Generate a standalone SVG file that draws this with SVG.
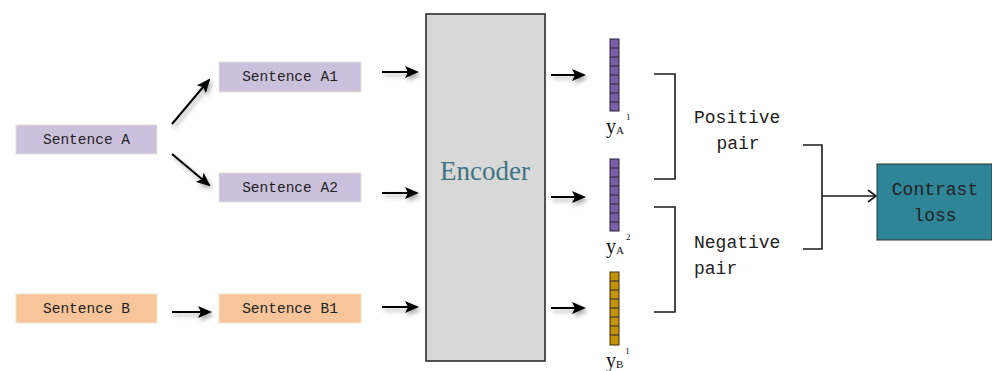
<svg xmlns="http://www.w3.org/2000/svg" width="992" height="371" viewBox="0 0 992 371">
  <style>
    .mono { font-family: "Liberation Mono", "DejaVu Sans Mono", monospace; fill: #222; }
    .sent { font-size: 14.5px; text-anchor: middle; }
    .big { font-size: 18px; }
    .boxA { fill: #cbc1dc; stroke: #e4e2d6; stroke-width: 1; }
    .boxB { fill: #f8c59b; stroke: #efe7d0; stroke-width: 1; }
    .arrow { stroke: #000; stroke-width: 2; fill: none; marker-end: url(#head); }
    .brace { stroke: #1a1a1a; stroke-width: 1.6; fill: none; }
    .vec line { stroke: #2a2238; stroke-width: 1; }
    .lbl { font-family: "Liberation Serif", "DejaVu Serif", serif; fill: #111; }
  </style>
  <defs>
    <marker id="head" markerUnits="userSpaceOnUse" markerWidth="14" markerHeight="12" refX="12" refY="6" orient="auto">
      <path d="M0,0 L14,6 L0,12 L3,6 z" fill="#000"/>
    </marker>
    <marker id="open" markerUnits="userSpaceOnUse" markerWidth="10" markerHeight="14" refX="9" refY="7" orient="auto">
      <path d="M1,1 L9,7 L1,13" fill="none" stroke="#1a1a1a" stroke-width="1.6"/>
    </marker>
    <filter id="shadow" filterUnits="userSpaceOnUse" x="0" y="0" width="992" height="371">
      <feDropShadow dx="2" dy="3" stdDeviation="2" flood-color="#000" flood-opacity="0.35"/>
    </filter>
  </defs>

  <!-- input sentences -->
  <g id="sentence-a">
    <rect class="boxA" x="16" y="125" width="141" height="29"/>
    <text class="mono sent" x="86.5" y="144">Sentence A</text>
  </g>
  <g id="sentence-b">
    <rect class="boxB" x="16" y="294" width="141" height="29"/>
    <text class="mono sent" x="86.5" y="313">Sentence B</text>
  </g>
  <g id="sentence-a1">
    <rect class="boxA" x="219" y="62" width="142" height="30"/>
    <text class="mono sent" x="290" y="81">Sentence A1</text>
  </g>
  <g id="sentence-a2">
    <rect class="boxA" x="219" y="173" width="142" height="29"/>
    <text class="mono sent" x="290" y="192">Sentence A2</text>
  </g>
  <g id="sentence-b1">
    <rect class="boxB" x="219" y="294" width="142" height="29"/>
    <text class="mono sent" x="290" y="313">Sentence B1</text>
  </g>

  <!-- encoder -->
  <g id="encoder">
    <rect x="426" y="14" width="119" height="347" fill="#d8d8d8" stroke="#2b2b2b" stroke-width="1.6"/>
    <text x="485" y="180" font-family="Liberation Serif, DejaVu Serif, serif" font-size="27" fill="#3f7484" text-anchor="middle">Encoder</text>
  </g>

  <!-- embedding vectors -->
  <g id="vec-ya1" class="vec">
    <rect x="610" y="39" width="9" height="72" fill="#7b5ea8" stroke="#2a2238" stroke-width="1"/>
    <line x1="610" y1="48" x2="619" y2="48"/><line x1="610" y1="57" x2="619" y2="57"/>
    <line x1="610" y1="66" x2="619" y2="66"/><line x1="610" y1="75" x2="619" y2="75"/>
    <line x1="610" y1="84" x2="619" y2="84"/><line x1="610" y1="93" x2="619" y2="93"/>
    <line x1="610" y1="102" x2="619" y2="102"/>
    <text class="lbl" x="606" y="133" font-size="20">y<tspan font-size="11" dy="1">A</tspan><tspan font-size="9" dx="2" dy="-14">1</tspan></text>
  </g>
  <g id="vec-ya2" class="vec">
    <rect x="610" y="159" width="9" height="72" fill="#7b5ea8" stroke="#2a2238" stroke-width="1"/>
    <line x1="610" y1="168" x2="619" y2="168"/><line x1="610" y1="177" x2="619" y2="177"/>
    <line x1="610" y1="186" x2="619" y2="186"/><line x1="610" y1="195" x2="619" y2="195"/>
    <line x1="610" y1="204" x2="619" y2="204"/><line x1="610" y1="213" x2="619" y2="213"/>
    <line x1="610" y1="222" x2="619" y2="222"/>
    <text class="lbl" x="606" y="253" font-size="20">y<tspan font-size="11" dy="1">A</tspan><tspan font-size="9" dx="2" dy="-14">2</tspan></text>
  </g>
  <g id="vec-yb1" class="vec">
    <rect x="610" y="272" width="9" height="73" fill="#c39206" stroke="#3a2e10" stroke-width="1"/>
    <line x1="610" y1="281" x2="619" y2="281" stroke="#3a2e10"/><line x1="610" y1="290" x2="619" y2="290" stroke="#3a2e10"/>
    <line x1="610" y1="299" x2="619" y2="299" stroke="#3a2e10"/><line x1="610" y1="308" x2="619" y2="308" stroke="#3a2e10"/>
    <line x1="610" y1="317" x2="619" y2="317" stroke="#3a2e10"/><line x1="610" y1="326" x2="619" y2="326" stroke="#3a2e10"/>
    <line x1="610" y1="335" x2="619" y2="335" stroke="#3a2e10"/>
    <text class="lbl" x="606" y="367" font-size="20">y<tspan font-size="11" dy="1">B</tspan><tspan font-size="9" dx="2" dy="-14">1</tspan></text>
  </g>

  <!-- pair labels -->
  <g id="positive-pair">
    <text class="mono big" x="694" y="123">Positive</text>
    <text class="mono big" x="738" y="149" text-anchor="middle">pair</text>
  </g>
  <g id="negative-pair">
    <text class="mono big" x="694" y="248">Negative</text>
    <text class="mono big" x="694" y="274">pair</text>
  </g>

  <!-- loss -->
  <g id="contrast-loss">
    <rect x="877" y="164" width="115" height="76" fill="#2f8598" stroke="#333" stroke-width="1"/>
    <text class="mono big" x="935" y="195" text-anchor="middle">Contrast</text>
    <text class="mono big" x="935" y="221" text-anchor="middle">loss</text>
  </g>

  <!-- connectors -->
  <g id="connectors">
    <g filter="url(#shadow)">
      <line class="arrow" x1="172" y1="124" x2="209" y2="80"/>
      <line class="arrow" x1="172" y1="154" x2="209" y2="185"/>
      <line class="arrow" x1="172" y1="312" x2="210" y2="312"/>
      <line class="arrow" x1="382" y1="72" x2="417" y2="72"/>
      <line class="arrow" x1="382" y1="193" x2="417" y2="193"/>
      <line class="arrow" x1="382" y1="307" x2="417" y2="307"/>
      <line class="arrow" x1="551" y1="75" x2="584" y2="75"/>
      <line class="arrow" x1="551" y1="197" x2="584" y2="197"/>
      <line class="arrow" x1="551" y1="308" x2="584" y2="308"/>
    </g>
    <path class="brace" d="M654,74 H675 V179 H654"/>
    <path class="brace" d="M654,207 H675 V312 H654"/>
    <path class="brace" d="M803,145 H822 V249 H803"/>
    <line x1="822" y1="196" x2="876" y2="196" stroke="#1a1a1a" stroke-width="1.6" marker-end="url(#open)"/>
  </g>
</svg>
